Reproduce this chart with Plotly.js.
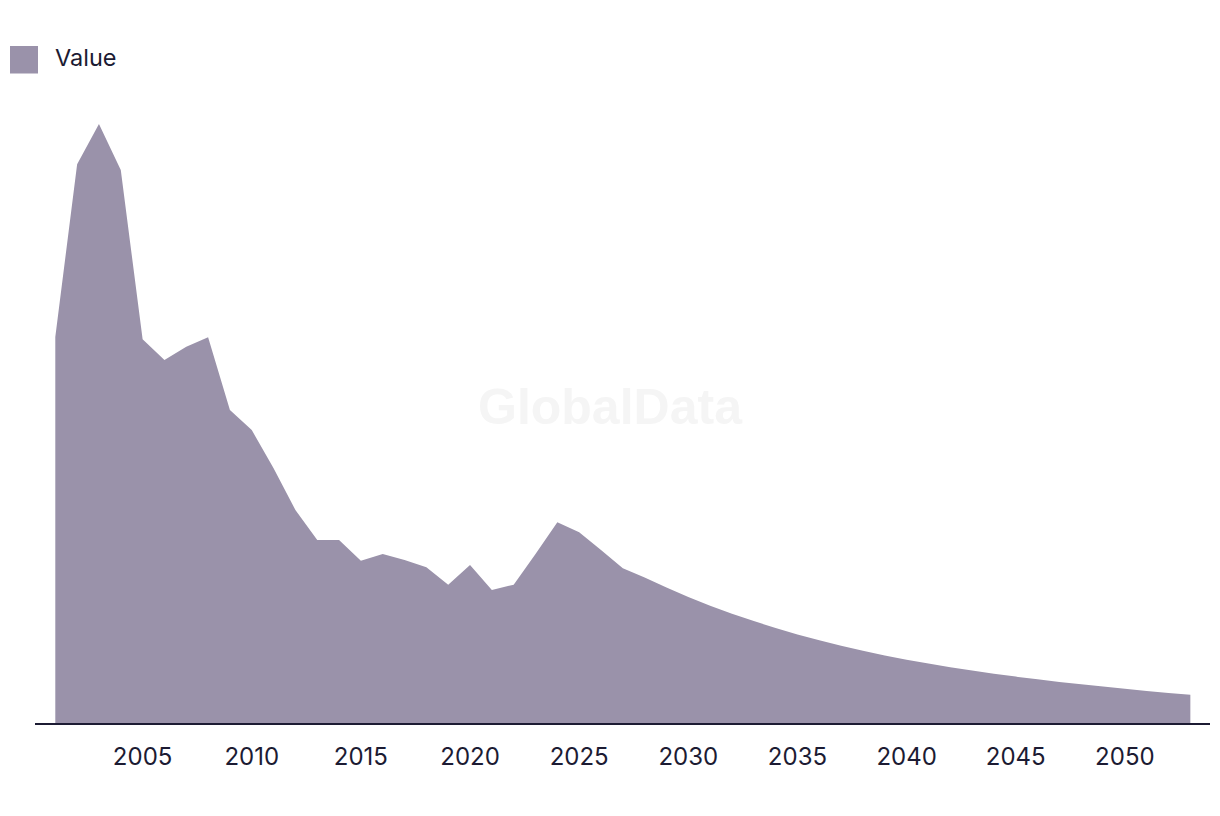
<!DOCTYPE html>
<html>
<head>
<meta charset="utf-8">
<script src="https://cdn.plot.ly/plotly-3.0.1.min.js"></script>
<style>
  html, body { margin: 0; padding: 0; background: #ffffff; }
  #chart { width: 1220px; height: 816px; }
</style>
</head>
<body>
<div id="chart"></div>
<script>
const years = [2001,2002,2003,2004,2005,2006,2007,2008,2009,2010,
  2011,2012,2013,2014,2015,2016,2017,2018,2019,2020,
  2021,2022,2023,2024,2025,2026,2027,2028,2029,2030,
  2031,2032,2033,2034,2035,2036,2037,2038,2039,2040,
  2041,2042,2043,2044,2045,2046,2047,2048,2049,2050,
  2051,2052,2053];
const values = [386,558.7,599,553,383.7,363,376.3,385.7,313,293,
  254.7,213,183,183,162.3,169,163,155.7,138.3,158,
  133,138.3,169,200.7,190.7,173,154.7,145.5,135.4,126,
  117.3,109.3,101.9,95,88.6,82.7,77.2,72.2,67.6,63.3,
  59.4,55.8,52.4,49.3,46.4,43.7,41.1,38.7,36.4,34.2,
  32.1,30.1,28.2];
const tickYears = [2005,2010,2015,2020,2025,2030,2035,2040,2045,2050];
const seriesName = 'Value';
const watermark = 'GlobalData';

const fillColor = '#9a92aa';
const textColor = '#1c1b33';
const fontFamily = 'Inter, "Noto Sans", sans-serif';

const trace = {
  x: years,
  y: values,
  type: 'scatter',
  mode: 'none',
  fill: 'tozeroy',
  fillcolor: fillColor,
  name: seriesName,
  showlegend: false,
  hoverinfo: 'x+y'
};

const layout = {
  width: 1220,
  height: 816,
  margin: {l: 35, r: 10, t: 80, b: 93},
  paper_bgcolor: '#ffffff',
  plot_bgcolor: '#ffffff',
  font: {family: fontFamily, color: textColor, size: 24},
  showlegend: false,
  xaxis: {
    range: [2000.07, 2053.9],
    tickmode: 'array',
    tickvals: tickYears,
    ticktext: tickYears.map(String),
    showgrid: false,
    zeroline: false,
    showline: true,
    linecolor: textColor,
    linewidth: 2,
    ticks: '',
    ticklabelstandoff: 11,
    tickfont: {family: fontFamily, size: 24, color: textColor}
  },
  yaxis: {
    range: [0, 643],
    visible: false,
    showgrid: false,
    zeroline: false
  },
  shapes: [
    {type: 'rect', xref: 'paper', yref: 'paper',
     x0: -0.02128, x1: 0.00255, y0: 1.0101, y1: 1.0529,
     fillcolor: fillColor, line: {width: 0}}
  ],
  annotations: [
    {text: seriesName, xref: 'paper', yref: 'paper', x: 0.0155, y: 1.0345,
     xanchor: 'left', yanchor: 'middle', showarrow: false,
     font: {family: fontFamily, size: 23.5, color: textColor}},
    {text: '<b>' + watermark + '</b>', xref: 'paper', yref: 'paper', x: 0.4894, y: 0.4914,
     xanchor: 'center', yanchor: 'middle', showarrow: false,
     font: {family: '"Liberation Sans", Arial, sans-serif', size: 50, color: '#f5f5f5'}}
  ]
};

Plotly.newPlot('chart', [trace], layout, {displayModeBar: false, staticPlot: true});
</script>
</body>
</html>
